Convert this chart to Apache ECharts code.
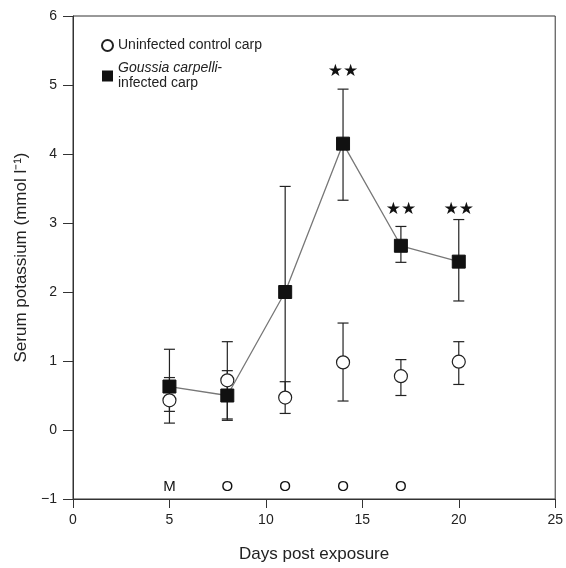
<!DOCTYPE html>
<html lang="en">
<head>
  <meta charset="UTF-8">
  <title>Serum potassium</title>
  <script src="https://cdn.jsdelivr.net/npm/echarts@6/dist/echarts.min.js"></script>
  <style>
    html, body { margin: 0; padding: 0; background: #fff; }
  </style>
</head>
<body>
  <div id="main" style="width:566px;height:568px;"></div>
  <script type="text/javascript">
    // days post exposure
    var days = [5, 8, 11, 14, 17, 20];
    // uninfected control carp: mean, lower and upper error bar ends
    var controlMean = [0.43, 0.72, 0.47, 0.98, 0.78, 0.99];
    var controlLow = [0.10, 0.16, 0.24, 0.42, 0.50, 0.66];
    var controlHigh = [0.76, 1.28, 0.70, 1.55, 1.02, 1.28];
    // Goussia carpelli-infected carp
    var infectedMean = [0.63, 0.50, 2.00, 4.15, 2.67, 2.44];
    var infectedLow = [0.27, 0.14, 0.47, 3.33, 2.43, 1.87];
    var infectedHigh = [1.17, 0.86, 3.53, 4.94, 2.95, 3.05];
    // significance marks
    var starDays = [14, 17, 20];
    var starY = [5.2, 3.2, 3.2];
    // labels along the bottom
    var bottomDays = [5, 8, 11, 14, 17];
    var bottomText = ['M', 'O', 'O', 'O', 'O'];
    var bottomY = -0.83;

    var font = 'Liberation Sans, Arial, sans-serif';

    function zip(xs, ys) {
      return xs.map(function (x, i) { return [x, ys[i]]; });
    }
    function errData(xs, lo, hi) {
      return xs.map(function (x, i) { return [x, lo[i], hi[i]]; });
    }

    function errBar(params, api) {
      var x = api.value(0);
      var lo = api.coord([x, api.value(1)]);
      var hi = api.coord([x, api.value(2)]);
      var w = 5.5;
      var st = { stroke: '#222', lineWidth: 1.2 };
      return {
        type: 'group',
        children: [
          { type: 'line', shape: { x1: lo[0], y1: lo[1], x2: hi[0], y2: hi[1] }, style: st },
          { type: 'line', shape: { x1: lo[0] - w, y1: lo[1], x2: lo[0] + w, y2: lo[1] }, style: st },
          { type: 'line', shape: { x1: hi[0] - w, y1: hi[1], x2: hi[0] + w, y2: hi[1] }, style: st }
        ]
      };
    }

    // text placed at data coordinates
    function textAt(texts, size, family) {
      return function (params, api) {
        var p = api.coord([api.value(0), api.value(1)]);
        return {
          type: 'text',
          x: p[0], y: p[1],
          style: {
            text: texts[params.dataIndex], fill: '#111',
            font: size + 'px ' + family,
            textAlign: 'center', textVerticalAlign: 'middle'
          }
        };
      };
    }

    var starText = starDays.map(function () { return '\u2605\u2605'; });

    var myChart = echarts.init(document.getElementById('main'));
    var option = {
      animation: false,
      backgroundColor: '#fff',
      textStyle: { fontFamily: font },
      grid: {
        left: 73, right: 6, top: 16, bottom: 67,
        show: true, borderColor: '#333', borderWidth: 1
      },
      legend: {
        orient: 'vertical',
        left: 96, top: 33,
        itemWidth: 11, itemHeight: 11, itemGap: 8,
        data: [
          { name: 'control', icon: 'circle' },
          { name: 'infected', icon: 'rect' }
        ],
        textStyle: {
          fontFamily: font, fontSize: 14, color: '#222', lineHeight: 15,
          rich: { i: { fontStyle: 'italic', fontSize: 14, fontFamily: font, color: '#222' } }
        },
        formatter: function (name) {
          if (name === 'control') return 'Uninfected control carp';
          return '{i|Goussia carpelli}-\ninfected carp';
        }
      },
      xAxis: {
        type: 'value', min: 0, max: 25, interval: 5,
        name: 'Days post exposure', nameLocation: 'middle', nameGap: 47,
        nameTextStyle: { fontSize: 17, color: '#222', fontFamily: font },
        axisLine: { onZero: false, lineStyle: { color: '#333' } },
        axisTick: { lineStyle: { color: '#333' }, length: 9 },
        axisLabel: { fontSize: 14, color: '#222', margin: 14 },
        splitLine: { show: false }
      },
      yAxis: {
        type: 'value', min: -1, max: 6, interval: 1,
        name: 'Serum potassium (mmol l\u207B\u00B9)', nameLocation: 'middle', nameGap: 42,
        nameTextStyle: { fontSize: 17, color: '#222', fontFamily: font },
        axisLine: { show: true, onZero: false, lineStyle: { color: '#333' } },
        axisTick: { show: true, lineStyle: { color: '#333' }, length: 10 },
        axisLabel: {
          fontSize: 14, color: '#222', margin: 16,
          formatter: function (v) { return v < 0 ? '\u2212' + Math.abs(v) : v; }
        },
        splitLine: { show: false }
      },
      series: [
        {
          name: 'controlErr', type: 'custom', renderItem: errBar,
          data: errData(days, controlLow, controlHigh), z: 2
        },
        {
          name: 'infectedErr', type: 'custom', renderItem: errBar,
          data: errData(days, infectedLow, infectedHigh), z: 2
        },
        {
          name: 'control', type: 'scatter', symbol: 'circle', symbolSize: 13,
          itemStyle: { color: '#fff', borderColor: '#222', borderWidth: 1.2, opacity: 1 },
          data: zip(days, controlMean), z: 4
        },
        {
          name: 'infected', type: 'line', symbol: 'rect', symbolSize: 13,
          showSymbol: true,
          lineStyle: { color: '#777', width: 1.3 },
          itemStyle: { color: '#111', borderColor: '#111' },
          data: zip(days, infectedMean), z: 5
        },
        {
          name: 'stars', type: 'custom',
          renderItem: textAt(starText, 17, 'DejaVu Sans'),
          data: zip(starDays, starY), z: 6
        },
        {
          name: 'bottom', type: 'custom',
          renderItem: textAt(bottomText, 15, font),
          data: zip(bottomDays, bottomDays.map(function () { return bottomY; })), z: 6
        }
      ]
    };
    myChart.setOption(option);
  </script>
</body>
</html>
